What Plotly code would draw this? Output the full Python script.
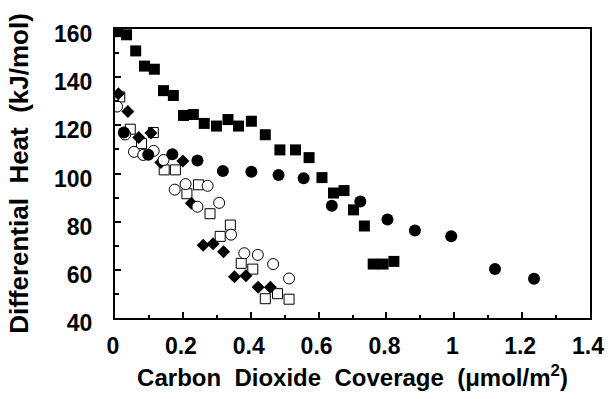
import plotly.graph_objects as go

# Filled squares
sq_x = [0.008, 0.034, 0.061, 0.087, 0.116, 0.143, 0.172, 0.202, 0.231, 0.263, 0.299, 0.333,
        0.364, 0.402, 0.443, 0.486, 0.532, 0.572, 0.610, 0.644, 0.675, 0.703, 0.735, 0.761,
        0.790, 0.822]
sq_y = [158.9, 157.6, 150.9, 144.6, 143.3, 134.4, 132.4, 124.1, 124.5, 120.8, 119.7, 122.4,
        119.7, 121.7, 116.1, 109.8, 109.8, 106.6, 98.3, 91.9, 92.9, 84.9, 78.2, 62.4,
        62.4, 63.5]

# Filled circles
ci_x = [0.026, 0.098, 0.169, 0.243, 0.318, 0.402, 0.482, 0.556, 0.639, 0.723, 0.803, 0.884,
        0.991, 1.120, 1.235]
ci_y = [117.0, 107.8, 108.0, 105.4, 101.0, 100.7, 99.4, 98.0, 86.6, 88.4, 80.9, 76.3,
        73.9, 60.3, 56.3]

# Filled diamonds
di_x = [0.010, 0.038, 0.070, 0.106, 0.135, 0.200, 0.225, 0.260, 0.289, 0.320, 0.352, 0.386,
        0.422, 0.458]
di_y = [133.1, 125.7, 115.0, 116.8, 104.6, 105.2, 87.6, 70.2, 70.8, 67.5, 57.1, 57.5,
        52.8, 52.8]

# Open circles
oc_x = [0.006, 0.030, 0.056, 0.083, 0.114, 0.143, 0.176, 0.208, 0.273, 0.243, 0.307, 0.342,
        0.381, 0.421, 0.466, 0.513]
oc_y = [127.8, 116.2, 109.0, 107.7, 109.4, 105.6, 93.3, 95.6, 94.9, 86.2, 87.8, 74.6,
        66.9, 66.2, 62.4, 56.4]

# Open squares
os_x = [0.014, 0.045, 0.078, 0.113, 0.145, 0.178, 0.212, 0.246, 0.280, 0.340, 0.310, 0.372,
        0.406, 0.443, 0.479, 0.513]
os_y = [131.8, 118.4, 112.4, 117.0, 101.5, 101.5, 91.6, 95.3, 83.3, 78.6, 73.9, 62.7,
        60.3, 48.0, 50.1, 47.8]

x_ticks = [0, 0.2, 0.4, 0.6, 0.8, 1.0, 1.2, 1.4]
x_ticklabels = ["0", "0.2", "0.4", "0.6", "0.8", "1", "1.2", "1.4"]
y_ticks = [40, 60, 80, 100, 120, 140, 160]

FONT = "Liberation Sans, Arial, sans-serif"
SP = "\u00a0\u00a0"

fig = go.Figure()
fig.add_trace(go.Scatter(x=os_x, y=os_y, mode="markers",
                         marker=dict(symbol="square", size=10, color="white",
                                     line=dict(color="black", width=1))))
fig.add_trace(go.Scatter(x=di_x, y=di_y, mode="markers",
                         marker=dict(symbol="diamond", size=10, color="black",
                                     line=dict(color="black", width=0))))
fig.add_trace(go.Scatter(x=oc_x, y=oc_y, mode="markers",
                         marker=dict(symbol="circle", size=11, color="white",
                                     line=dict(color="black", width=1))))
fig.add_trace(go.Scatter(x=ci_x, y=ci_y, mode="markers",
                         marker=dict(symbol="circle", size=12, color="black",
                                     line=dict(color="black", width=0))))
fig.add_trace(go.Scatter(x=sq_x, y=sq_y, mode="markers",
                         marker=dict(symbol="square", size=11, color="black",
                                     line=dict(color="black", width=0))))

fig.update_layout(
    width=616, height=399,
    margin=dict(l=115, r=17, t=29, b=71),
    paper_bgcolor="white", plot_bgcolor="white",
    showlegend=False,
    font=dict(family=FONT, size=22, color="black"),
)
fig.update_xaxes(
    range=[0, 1.4], tickvals=x_ticks, ticktext=x_ticklabels,
    showgrid=False, zeroline=False,
    showline=True, linecolor="black", linewidth=2, mirror=True,
    ticks="inside", ticklen=6, tickwidth=2, tickcolor="black",
    minor=dict(ticks="inside", ticklen=3, tickwidth=2, tickcolor="black", dtick=0.1),
    tickfont=dict(family=FONT, size=23, weight="bold"),
    ticklabelstandoff=6, ticklabelshift=-2,
    title=dict(text="Carbon\u00a0\u00a0Dioxide\u00a0\u00a0Coverage\u00a0\u00a0(\u03bcmol/m<sup>2</sup>)",
               font=dict(family=FONT, size=24, weight="bold"), standoff=12),
)
fig.update_yaxes(
    range=[40, 160], tickvals=y_ticks,
    showgrid=False, zeroline=False,
    showline=True, linecolor="black", linewidth=2, mirror=True,
    ticks="inside", ticklen=6, tickwidth=2, tickcolor="black",
    minor=dict(ticks="inside", ticklen=4, tickwidth=2, tickcolor="black", dtick=10),
    tickfont=dict(family=FONT, size=23, weight="bold"),
    ticklabelstandoff=16, ticklabelshift=5,
    title=dict(text="Differential" + SP + "Heat" + SP + "(kJ/mol)",
               font=dict(family=FONT, size=26, weight="bold"), standoff=18),
)

fig.write_html("out.html")
